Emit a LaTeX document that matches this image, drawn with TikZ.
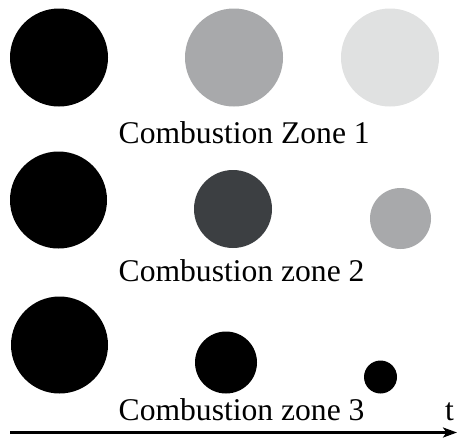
\documentclass[tikz,border=0pt]{standalone}
\usepackage{fontspec}
\setmainfont{Liberation Serif}
\usetikzlibrary{arrows.meta}
\definecolor{midgray}{HTML}{A8A9AB}
\definecolor{lightgray}{HTML}{E0E1E1}
\definecolor{darkgray}{HTML}{3C3F42}
\begin{document}
\begin{tikzpicture}[x=1pt,y=-1pt,
  dot/.style={circle,draw=none,inner sep=0pt,minimum size=#1},
  zonelabel/.style={anchor=base west,inner sep=0pt,font=\fontsize{31.6}{38}\selectfont}]
\useasboundingbox (0,0) rectangle (457,437);
% row 1
\node[dot=98pt,fill=black] (a1) at (59,57.5) {};
\node[dot=98pt,fill=midgray] (b1) at (234,57.5) {};
\node[dot=98pt,fill=lightgray] (c1) at (390,57.5) {};
\node[zonelabel] (t1) at (118.5,143) {Combustion Zone 1};
% row 2
\node[dot=97pt,fill=black] (a2) at (58.5,200) {};
\node[dot=78pt,fill=darkgray] (b2) at (233,209) {};
\node[dot=61pt,fill=midgray] (c2) at (400.5,218.5) {};
\node[zonelabel] (t2) at (118.5,281) {Combustion zone 2};
% row 3
\node[dot=97pt,fill=black] (a3) at (59.5,345) {};
\node[dot=62pt,fill=black] (b3) at (226,362.5) {};
\node[dot=33pt,fill=black] (c3) at (380.5,377) {};
\node[zonelabel] (t3) at (118.5,420) {Combustion zone 3};
\node[zonelabel] (tt) at (445,420) {t};
% time axis
\coordinate (s) at (10,432.5);
\coordinate (e) at (457,432.5);
\draw[line width=2.6pt,-{Stealth[length=14pt,width=10pt,inset=3.5pt]}] (s) -- (e);
\end{tikzpicture}
\end{document}
